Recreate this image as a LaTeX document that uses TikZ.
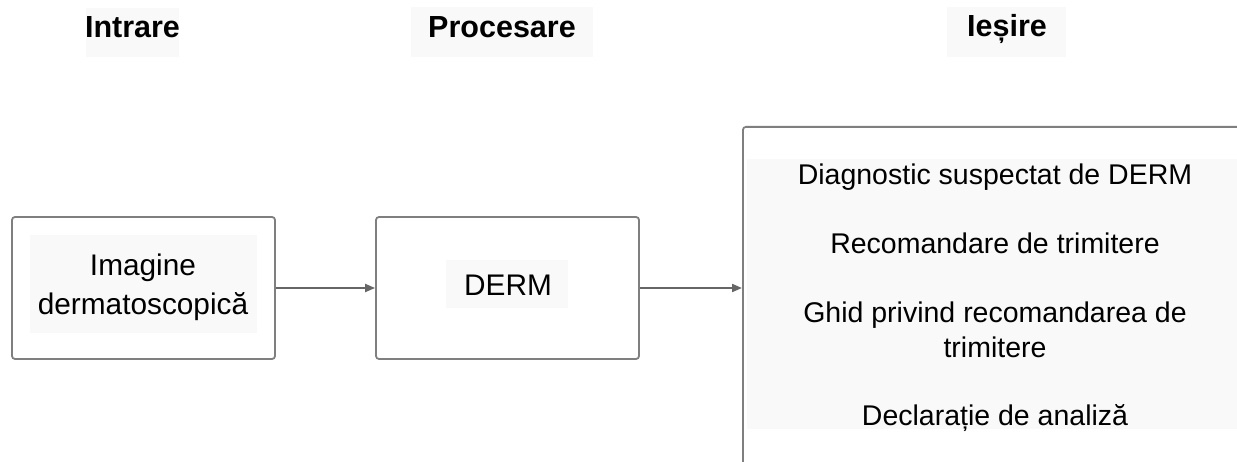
\documentclass[tikz,border=0pt]{standalone}
\usepackage{fontspec}
\setmainfont{Liberation Sans}
\usetikzlibrary{arrows.meta}
\definecolor{boxline}{HTML}{7F7F7F}
\definecolor{arrowline}{HTML}{666666}
\definecolor{textbg}{HTML}{F9F9F9}
\tikzset{
  box/.style={draw=boxline, line width=1.8pt, rounded corners=3pt, rectangle, inner sep=0pt},
  conn/.style={draw=arrowline, line width=2pt, -{Triangle[length=10pt,width=8pt]}},
  head/.style={font=\fontsize{30.5}{35}\selectfont\bfseries, anchor=base, inner sep=0pt},
  body/.style={font=\fontsize{28.5}{34.5}\selectfont, anchor=base, inner sep=0pt, align=center},
}
\begin{document}
\begin{tikzpicture}[x=1pt,y=-1pt]
\useasboundingbox (0,0) rectangle (1237,462);
\clip (0,0) rectangle (1237,462);
% header backgrounds
\fill[textbg] (86,8) rectangle (179,57);
\fill[textbg] (411,7) rectangle (593,57);
\fill[textbg] (947,7) rectangle (1066,57);
\node[head] (hin) at (132.5,38) {Intrare};
\node[head] (hproc) at (502,38) {Procesare};
\node[head] (hout) at (1007,37) {Ieșire};
% boxes
\node[box, minimum width=263pt, minimum height=142pt] (in) at (143.5,288) {};
\node[box, minimum width=263pt, minimum height=142pt] (proc) at (507.5,288) {};
\node[box, minimum width=540pt, minimum height=380pt, anchor=north west] (out) at (742,126) {};
% text backgrounds
\fill[textbg] (30,235) rectangle (257,333);
\fill[textbg] (446,260) rectangle (568,308);
\fill[textbg] (747,159) rectangle (1237,429);
% texts (multi-line nodes: base anchor is at the last line)
\node[body, font=\fontsize{29.8}{39}\selectfont] (tin) at (143,315) {Imagine\\dermatoscopică};
\node[body, font=\fontsize{29.8}{35}\selectfont] (tproc) at (508,296) {DERM};
\node[body] (t1) at (995,185) {Diagnostic suspectat de DERM};
\node[body] (t2) at (995,254) {Recomandare de trimitere};
\node[body] (t3) at (995,357) {Ghid privind recomandarea de\\trimitere};
\node[body] (t4) at (995,425) {Declarație de analiză};
% connectors
\draw[conn] (in.east) -- (proc.west);
\draw[conn] (proc.east) -- (proc.east -| out.west);
\end{tikzpicture}
\end{document}
